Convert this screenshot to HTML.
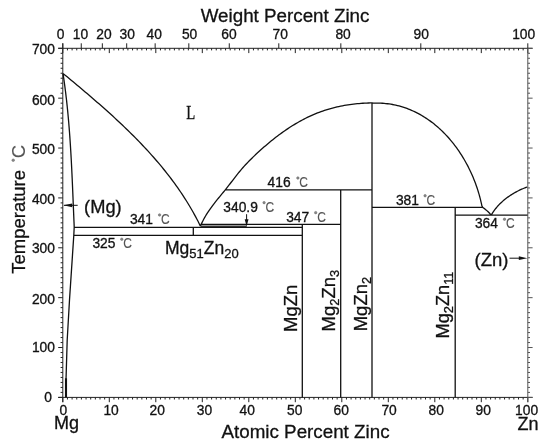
<!DOCTYPE html>
<html><head><meta charset="utf-8"><title>Mg-Zn phase diagram</title>
<style>
html,body{margin:0;padding:0;background:#fff;}
body{width:550px;height:446px;overflow:hidden;}
svg{display:block;will-change:transform;}
text{font-family:"Liberation Sans",sans-serif;fill:#111;stroke:#111;stroke-width:0.3px;}
.dgc{fill:#888;stroke:#666;stroke-width:0.5px;}
.cc{fill:#555;stroke:#555;stroke-width:0.1px;}
</style></head><body>
<svg width="550" height="446" viewBox="0 0 550 446">
<rect width="550" height="446" fill="#fff"/>
<path d="M58.2 48.3H532.6M58.2 397.4H532.6M62.8 43.3V402.2M58.2 397.4H62.8M60.6 392.41H62.8M60.6 387.43H62.8M60.6 382.44H62.8M60.6 377.45H62.8M60.6 372.46H62.8M60.6 367.48H62.8M60.6 362.49H62.8M60.6 357.5H62.8M60.6 352.52H62.8M58.2 347.53H62.8M60.6 342.54H62.8M60.6 337.55H62.8M60.6 332.57H62.8M60.6 327.58H62.8M60.6 322.59H62.8M60.6 317.61H62.8M60.6 312.62H62.8M60.6 307.63H62.8M60.6 302.65H62.8M58.2 297.66H62.8M60.6 292.67H62.8M60.6 287.68H62.8M60.6 282.7H62.8M60.6 277.71H62.8M60.6 272.72H62.8M60.6 267.74H62.8M60.6 262.75H62.8M60.6 257.76H62.8M60.6 252.77H62.8M58.2 247.79H62.8M60.6 242.8H62.8M60.6 237.81H62.8M60.6 232.83H62.8M60.6 227.84H62.8M60.6 222.85H62.8M60.6 217.86H62.8M60.6 212.88H62.8M60.6 207.89H62.8M60.6 202.9H62.8M58.2 197.92H62.8M60.6 192.93H62.8M60.6 187.94H62.8M60.6 182.95H62.8M60.6 177.97H62.8M60.6 172.98H62.8M60.6 167.99H62.8M60.6 163.01H62.8M60.6 158.02H62.8M60.6 153.03H62.8M58.2 148.04H62.8M60.6 143.06H62.8M60.6 138.07H62.8M60.6 133.08H62.8M60.6 128.1H62.8M60.6 123.11H62.8M60.6 118.12H62.8M60.6 113.14H62.8M60.6 108.15H62.8M60.6 103.16H62.8M58.2 98.17H62.8M60.6 93.19H62.8M60.6 88.2H62.8M60.6 83.21H62.8M60.6 78.23H62.8M60.6 73.24H62.8M60.6 68.25H62.8M60.6 63.26H62.8M60.6 58.28H62.8M60.6 53.29H62.8M58.2 48.3H62.8M62.8 397.4V402.2M67.45 397.4V399.5M72.1 397.4V399.5M76.75 397.4V399.5M81.4 397.4V399.5M86.05 397.4V399.5M90.7 397.4V399.5M95.35 397.4V399.5M100 397.4V399.5M104.65 397.4V399.5M109.3 397.4V402.2M113.95 397.4V399.5M118.6 397.4V399.5M123.25 397.4V399.5M127.9 397.4V399.5M132.55 397.4V399.5M137.2 397.4V399.5M141.85 397.4V399.5M146.5 397.4V399.5M151.15 397.4V399.5M155.8 397.4V402.2M160.45 397.4V399.5M165.1 397.4V399.5M169.75 397.4V399.5M174.4 397.4V399.5M179.05 397.4V399.5M183.7 397.4V399.5M188.35 397.4V399.5M193 397.4V399.5M197.65 397.4V399.5M202.3 397.4V402.2M206.95 397.4V399.5M211.6 397.4V399.5M216.25 397.4V399.5M220.9 397.4V399.5M225.55 397.4V399.5M230.2 397.4V399.5M234.85 397.4V399.5M239.5 397.4V399.5M244.15 397.4V399.5M248.8 397.4V402.2M253.45 397.4V399.5M258.1 397.4V399.5M262.75 397.4V399.5M267.4 397.4V399.5M272.05 397.4V399.5M276.7 397.4V399.5M281.35 397.4V399.5M286 397.4V399.5M290.65 397.4V399.5M295.3 397.4V402.2M299.95 397.4V399.5M304.6 397.4V399.5M309.25 397.4V399.5M313.9 397.4V399.5M318.55 397.4V399.5M323.2 397.4V399.5M327.85 397.4V399.5M332.5 397.4V399.5M337.15 397.4V399.5M341.8 397.4V402.2M346.45 397.4V399.5M351.1 397.4V399.5M355.75 397.4V399.5M360.4 397.4V399.5M365.05 397.4V399.5M369.7 397.4V399.5M374.35 397.4V399.5M379 397.4V399.5M383.65 397.4V399.5M388.3 397.4V402.2M392.95 397.4V399.5M397.6 397.4V399.5M402.25 397.4V399.5M406.9 397.4V399.5M411.55 397.4V399.5M416.2 397.4V399.5M420.85 397.4V399.5M425.5 397.4V399.5M430.15 397.4V399.5M434.8 397.4V402.2M439.45 397.4V399.5M444.1 397.4V399.5M448.75 397.4V399.5M453.4 397.4V399.5M458.05 397.4V399.5M462.7 397.4V399.5M467.35 397.4V399.5M472 397.4V399.5M476.65 397.4V399.5M481.3 397.4V402.2M485.95 397.4V399.5M490.6 397.4V399.5M495.25 397.4V399.5M499.9 397.4V399.5M504.55 397.4V399.5M509.2 397.4V399.5M513.85 397.4V399.5M518.5 397.4V399.5M523.15 397.4V399.5M527.8 397.4V402.2M62.8 48.3V53.1M67.45 48.3V50.4M72.1 48.3V50.4M76.75 48.3V50.4M81.4 48.3V50.4M86.05 48.3V50.4M90.7 48.3V50.4M95.35 48.3V50.4M100 48.3V50.4M104.65 48.3V50.4M109.3 48.3V53.1M113.95 48.3V50.4M118.6 48.3V50.4M123.25 48.3V50.4M127.9 48.3V50.4M132.55 48.3V50.4M137.2 48.3V50.4M141.85 48.3V50.4M146.5 48.3V50.4M151.15 48.3V50.4M155.8 48.3V53.1M160.45 48.3V50.4M165.1 48.3V50.4M169.75 48.3V50.4M174.4 48.3V50.4M179.05 48.3V50.4M183.7 48.3V50.4M188.35 48.3V50.4M193 48.3V50.4M197.65 48.3V50.4M202.3 48.3V53.1M206.95 48.3V50.4M211.6 48.3V50.4M216.25 48.3V50.4M220.9 48.3V50.4M225.55 48.3V50.4M230.2 48.3V50.4M234.85 48.3V50.4M239.5 48.3V50.4M244.15 48.3V50.4M248.8 48.3V53.1M253.45 48.3V50.4M258.1 48.3V50.4M262.75 48.3V50.4M267.4 48.3V50.4M272.05 48.3V50.4M276.7 48.3V50.4M281.35 48.3V50.4M286 48.3V50.4M290.65 48.3V50.4M295.3 48.3V53.1M299.95 48.3V50.4M304.6 48.3V50.4M309.25 48.3V50.4M313.9 48.3V50.4M318.55 48.3V50.4M323.2 48.3V50.4M327.85 48.3V50.4M332.5 48.3V50.4M337.15 48.3V50.4M341.8 48.3V53.1M346.45 48.3V50.4M351.1 48.3V50.4M355.75 48.3V50.4M360.4 48.3V50.4M365.05 48.3V50.4M369.7 48.3V50.4M374.35 48.3V50.4M379 48.3V50.4M383.65 48.3V50.4M388.3 48.3V53.1M392.95 48.3V50.4M397.6 48.3V50.4M402.25 48.3V50.4M406.9 48.3V50.4M411.55 48.3V50.4M416.2 48.3V50.4M420.85 48.3V50.4M425.5 48.3V50.4M430.15 48.3V50.4M434.8 48.3V53.1M439.45 48.3V50.4M444.1 48.3V50.4M448.75 48.3V50.4M453.4 48.3V50.4M458.05 48.3V50.4M462.7 48.3V50.4M467.35 48.3V50.4M472 48.3V50.4M476.65 48.3V50.4M481.3 48.3V53.1M485.95 48.3V50.4M490.6 48.3V50.4M495.25 48.3V50.4M499.9 48.3V50.4M504.55 48.3V50.4M509.2 48.3V50.4M513.85 48.3V50.4M518.5 48.3V50.4M523.15 48.3V50.4M527.8 48.3V53.1M62.8 43.3V48.3M81.25 43.3V48.3M102.34 43.3V48.3M126.7 43.3V48.3M155.15 43.3V48.3M188.82 43.3V48.3M229.27 43.3V48.3M278.79 43.3V48.3M340.83 43.3V48.3M420.8 43.3V48.3M527.8 43.3V48.3" stroke="#222" stroke-width="1" fill="none"/>
<path d="M527.8 48.3V402.2M527.8 397.4H532.6M527.8 392.41H530M527.8 387.43H530M527.8 382.44H530M527.8 377.45H530M527.8 372.46H530M527.8 367.48H530M527.8 362.49H530M527.8 357.5H530M527.8 352.52H530M527.8 347.53H532.6M527.8 342.54H530M527.8 337.55H530M527.8 332.57H530M527.8 327.58H530M527.8 322.59H530M527.8 317.61H530M527.8 312.62H530M527.8 307.63H530M527.8 302.65H530M527.8 297.66H532.6M527.8 292.67H530M527.8 287.68H530M527.8 282.7H530M527.8 277.71H530M527.8 272.72H530M527.8 267.74H530M527.8 262.75H530M527.8 257.76H530M527.8 252.77H530M527.8 247.79H532.6M527.8 242.8H530M527.8 237.81H530M527.8 232.83H530M527.8 227.84H530M527.8 222.85H530M527.8 217.86H530M527.8 212.88H530M527.8 207.89H530M527.8 202.9H530M527.8 197.92H532.6M527.8 192.93H530M527.8 187.94H530M527.8 182.95H530M527.8 177.97H530M527.8 172.98H530M527.8 167.99H530M527.8 163.01H530M527.8 158.02H530M527.8 153.03H530M527.8 148.04H532.6M527.8 143.06H530M527.8 138.07H530M527.8 133.08H530M527.8 128.1H530M527.8 123.11H530M527.8 118.12H530M527.8 113.14H530M527.8 108.15H530M527.8 103.16H530M527.8 98.17H532.6M527.8 93.19H530M527.8 88.2H530M527.8 83.21H530M527.8 78.23H530M527.8 73.24H530M527.8 68.25H530M527.8 63.26H530M527.8 58.28H530M527.8 53.29H530M527.8 48.3H532.6" stroke="#555" stroke-width="1" fill="none"/>
<rect x="200.6" y="224.35" width="46" height="2.6" fill="#999"/>
<path d="M63 73.6 L65.16 75.17 L67.16 76.83 L69.16 78.49 L71.16 80.15 L73.16 81.82 L75.16 83.49 L77.16 85.16 L79.16 86.84 L81.15 88.52 L83.15 90.21 L85.14 91.9 L87.14 93.59 L89.13 95.29 L91.12 96.99 L93.1 98.7 L95.08 100.42 L97.06 102.14 L99.04 103.86 L101.01 105.59 L102.98 107.33 L104.94 109.07 L106.9 110.82 L108.85 112.57 L110.8 114.34 L112.74 116.1 L114.67 117.88 L116.6 119.66 L118.52 121.45 L120.44 123.24 L122.34 125.05 L124.24 126.86 L126.14 128.68 L128.02 130.51 L129.89 132.34 L131.76 134.18 L133.62 136.04 L135.46 137.9 L137.3 139.77 L139.13 141.64 L140.94 143.53 L142.75 145.43 L144.54 147.33 L146.33 149.25 L148.1 151.18 L149.86 153.11 L151.61 155.06 L153.34 157.01 L155.06 158.98 L156.77 160.96 L158.47 162.94 L160.15 164.94 L161.82 166.95 L163.47 168.97 L165.11 171.01 L166.73 173.05 L168.34 175.11 L169.93 177.18 L171.51 179.26 L173.07 181.35 L174.61 183.45 L176.14 185.57 L177.65 187.7 L179.14 189.85 L180.62 192 L182.07 194.17 L183.51 196.36 L184.93 198.55 L186.33 200.76 L187.71 202.99 L189.07 205.23 L190.41 207.48 L191.73 209.75 L193.03 212.03 L194.31 214.33 L195.57 216.64 L196.81 218.97 L198.03 221.31 L199.22 223.67 L200.3 226M63 73.6 L63.3 75.53 L63.59 77.46 L63.87 79.39 L64.15 81.33 L64.42 83.26 L64.68 85.2 L64.94 87.13 L65.19 89.07 L65.44 91 L65.68 92.94 L65.91 94.88 L66.14 96.82 L66.37 98.76 L66.59 100.69 L66.8 102.63 L67.01 104.57 L67.21 106.51 L67.41 108.46 L67.61 110.4 L67.8 112.34 L67.98 114.28 L68.16 116.22 L68.34 118.17 L68.51 120.11 L68.68 122.05 L68.84 124 L69 125.94 L69.16 127.89 L69.31 129.83 L69.46 131.78 L69.61 133.73 L69.75 135.67 L69.89 137.62 L70.02 139.57 L70.15 141.51 L70.28 143.46 L70.41 145.41 L70.53 147.36 L70.65 149.3 L70.77 151.25 L70.88 153.2 L71 155.15 L71.1 157.1 L71.21 159.05 L71.32 161 L71.42 162.95 L71.52 164.9 L71.62 166.85 L71.72 168.8 L71.81 170.75 L71.9 172.7 L72 174.65 L72.09 176.6 L72.18 178.55 L72.26 180.5 L72.35 182.45 L72.44 184.4 L72.52 186.35 L72.6 188.3 L72.69 190.25 L72.77 192.2 L72.85 194.15 L72.93 196.1 L73.01 198.05 L73.09 200 L73.17 201.95 L73.25 203.9 L73.33 205.85 L73.41 207.8 L73.49 209.75 L73.57 211.7 L73.65 213.65 L73.73 215.6 L73.81 217.55 L73.89 219.5 L73.98 221.45 L74.06 223.4 L74.14 225.35 L74.2 227.3M74.2 227.3 L73.8 235.3 L69.5 300 L67.2 340 L66 380M200.3 226 L201.19 224.35 L201.99 222.64 L202.83 220.95 L203.7 219.29 L204.61 217.66 L205.54 216.04 L206.5 214.45 L207.49 212.88 L208.5 211.33 L209.54 209.79 L210.61 208.27 L211.69 206.77 L212.8 205.28 L213.93 203.81 L215.07 202.35 L216.23 200.9 L217.4 199.45 L218.58 198.01 L219.76 196.58 L220.95 195.14 L222.13 193.71 L223.32 192.27 L224.5 190.82 L225.67 189.37 L226.83 187.91 L227.98 186.44 L229.13 184.97 L230.27 183.49 L231.4 182.01 L232.54 180.52 L233.67 179.05 L234.81 177.57 L235.96 176.1 L237.11 174.64 L238.27 173.19 L239.44 171.75 L240.62 170.32 L241.82 168.91 L243.03 167.52 L244.26 166.14 L245.5 164.78 L246.76 163.44 L248.04 162.1 L249.32 160.78 L250.62 159.47 L251.93 158.17 L253.26 156.89 L254.59 155.61 L255.94 154.34 L257.29 153.07 L258.66 151.82 L260.03 150.57 L261.41 149.32 L262.81 148.09 L264.21 146.86 L265.62 145.64 L267.05 144.43 L268.48 143.22 L269.92 142.03 L271.37 140.84 L272.83 139.67 L274.3 138.51 L275.77 137.36 L277.26 136.22 L278.76 135.09 L280.26 133.97 L281.78 132.87 L283.31 131.78 L284.84 130.71 L286.38 129.65 L287.94 128.61 L289.5 127.58 L291.07 126.57 L292.65 125.57 L294.24 124.59 L295.84 123.63 L297.45 122.69 L299.07 121.77 L300.7 120.86 L302.34 119.97 L303.99 119.11 L305.64 118.26 L307.31 117.43 L308.98 116.63 L310.67 115.85 L312.36 115.09 L314.06 114.35 L315.78 113.64 L317.5 112.95 L319.23 112.28 L320.97 111.64 L322.72 111.02 L324.48 110.43 L326.25 109.86 L328.02 109.32 L329.81 108.8 L331.6 108.3 L333.4 107.83 L335.2 107.38 L337.02 106.96 L338.83 106.55 L340.66 106.17 L342.49 105.81 L344.32 105.48 L346.16 105.16 L348.01 104.87 L349.85 104.6 L351.71 104.35 L353.56 104.12 L355.42 103.91 L357.28 103.72 L359.14 103.55 L361.01 103.4 L362.87 103.27 L364.74 103.16 L366.61 103.06 L368.48 102.99 L370.35 102.93 L372.2 102.9M372.2 102.9 L373.58 103.07 L375.36 103.04 L377.13 103.03 L378.89 103.07 L380.63 103.13 L382.37 103.23 L384.09 103.36 L385.8 103.53 L387.5 103.73 L389.19 103.96 L390.86 104.22 L392.53 104.51 L394.18 104.83 L395.82 105.19 L397.45 105.57 L399.06 105.98 L400.66 106.42 L402.25 106.9 L403.83 107.4 L405.4 107.93 L406.95 108.48 L408.49 109.07 L410.01 109.68 L411.53 110.31 L413.03 110.98 L414.52 111.67 L415.99 112.39 L417.45 113.13 L418.9 113.89 L420.33 114.68 L421.75 115.5 L423.16 116.34 L424.55 117.2 L425.93 118.09 L427.3 118.99 L428.65 119.92 L429.98 120.88 L431.31 121.85 L432.62 122.85 L433.91 123.86 L435.19 124.9 L436.46 125.95 L437.71 127.03 L438.95 128.13 L440.17 129.24 L441.38 130.37 L442.57 131.53 L443.75 132.7 L444.91 133.88 L446.06 135.09 L447.19 136.31 L448.31 137.55 L449.41 138.8 L450.5 140.07 L451.57 141.35 L452.62 142.65 L453.66 143.97 L454.69 145.29 L455.7 146.64 L456.69 147.99 L457.67 149.36 L458.63 150.74 L459.57 152.14 L460.5 153.54 L461.41 154.96 L462.31 156.39 L463.19 157.83 L464.05 159.28 L464.9 160.74 L465.73 162.21 L466.54 163.69 L467.34 165.17 L468.12 166.67 L468.88 168.18 L469.62 169.69 L470.35 171.21 L471.06 172.74 L471.76 174.27 L472.43 175.81 L473.09 177.36 L473.73 178.91 L474.35 180.47 L474.96 182.03 L475.55 183.6 L476.12 185.17 L476.67 186.75 L477.2 188.33 L477.72 189.91 L478.22 191.49 L478.7 193.08 L479.16 194.67 L479.6 196.26 L480.03 197.85 L480.43 199.44 L480.82 201.04 L481.19 202.63 L481.54 204.22 L481.87 205.82 L482.7 207.4M482.7 207.4 L483.56 208.01 L484.4 208.63 L485.22 209.27 L486.03 209.93 L486.82 210.62 L487.59 211.32 L488.35 212.03 L489.09 212.77 L489.81 213.53 L490.51 214.31 L491.2 215.1M491.2 215.1 L491.79 214.05 L492.42 213.04 L493.08 212.05 L493.77 211.07 L494.47 210.11 L495.19 209.16 L495.94 208.23 L496.7 207.32 L497.48 206.42 L498.28 205.53 L499.1 204.67 L499.94 203.82 L500.79 202.98 L501.66 202.16 L502.55 201.36 L503.45 200.57 L504.36 199.8 L505.29 199.05 L506.24 198.31 L507.2 197.59 L508.17 196.88 L509.15 196.19 L510.14 195.52 L511.15 194.86 L512.16 194.22 L513.19 193.6 L514.22 192.99 L515.27 192.4 L516.32 191.82 L517.38 191.26 L518.45 190.72 L519.52 190.2 L520.6 189.69 L521.69 189.2 L522.78 188.72 L523.88 188.26 L524.98 187.82 L526.08 187.4 L527.2 187M74.2 227.34H302.3M74.2 235.32H302.3M200.4 224.35H340.7M225.7 189.94H372M372 207.39H482.8M455.2 215.1H527.6M193.3 227.34V235.32M302.3 224.35V397.4M340.7 189.94V397.4M372 102.9V397.4M455.2 207.39V397.4" stroke="#111" stroke-width="1.3" fill="none" stroke-linejoin="round"/>
<path d="M200.6 226.7H246.6" stroke="#222" stroke-width="1" fill="none"/>
<path d="M66 378.3V397.4" stroke="#111" stroke-width="2.1"/>
<path d="M64 205.3H77.7" stroke="#111" stroke-width="1"/><path d="M63.4 205.3L72.2 203.4L72.2 207.2Z" fill="#111"/>
<path d="M246.6 214.2V221" stroke="#111" stroke-width="1"/><path d="M246.6 226.4L244.7 219.2L248.5 219.2Z" fill="#111"/>
<path d="M509.5 258.2H521" stroke="#111" stroke-width="1"/><path d="M527.4 258.2L518.8 256.3L518.8 260.1Z" fill="#111"/>
<text x="200.7" y="22.4" font-size="18.8" >Weight Percent Zinc</text>
<text x="221.5" y="438.2" font-size="18.8" >Atomic Percent Zinc</text>
<text x="56.85" y="38.7" font-size="13.8">0</text>
<text x="72.73" y="38.7" font-size="13.8">10</text>
<text x="96.23" y="38.7" font-size="13.8">20</text>
<text x="119.53" y="38.7" font-size="13.8">30</text>
<text x="146.52" y="38.7" font-size="13.8">40</text>
<text x="181.92" y="38.7" font-size="13.8">50</text>
<text x="221.22" y="38.7" font-size="13.8">60</text>
<text x="272.52" y="38.7" font-size="13.8">70</text>
<text x="335.43" y="38.7" font-size="13.8">80</text>
<text x="413.62" y="38.7" font-size="13.8">90</text>
<text x="512.18" y="38.7" font-size="13.8">100</text>
<text x="59.5" y="414.7" font-size="13.8">0</text>
<text x="103.42" y="414.7" font-size="13.8">10</text>
<text x="149.62" y="414.7" font-size="13.8">20</text>
<text x="196.82" y="414.7" font-size="13.8">30</text>
<text x="239.62" y="414.7" font-size="13.8">40</text>
<text x="287.12" y="414.7" font-size="13.8">50</text>
<text x="333.62" y="414.7" font-size="13.8">60</text>
<text x="381.43" y="414.7" font-size="13.8">70</text>
<text x="428.52" y="414.7" font-size="13.8">80</text>
<text x="475.62" y="414.7" font-size="13.8">90</text>
<text x="515.08" y="414.7" font-size="13.8">100</text>
<text x="44.3" y="401.85" font-size="13.8">0</text>
<text x="31.95" y="351.88" font-size="13.8">100</text>
<text x="31.95" y="303.81" font-size="13.8">200</text>
<text x="31.95" y="252.94" font-size="13.8">300</text>
<text x="31.95" y="203.52" font-size="13.8">400</text>
<text x="31.95" y="153.64" font-size="13.8">500</text>
<text x="31.95" y="105.12" font-size="13.8">600</text>
<text x="31.95" y="54.1" font-size="13.8">700</text>
<text x="54.1" y="429.1" font-size="18" >Mg</text>
<text x="517.5" y="430.4" font-size="18" >Zn</text>
<text x="84.1" y="213" font-size="18.3" >(Mg)</text>
<text x="474.5" y="266.4" font-size="18.5" >(Zn)</text>
<text x="0" y="0" font-size="19" font-family="Liberation Serif" transform="translate(186.3 118.6) scale(0.78 1) translate(-0 0)" style="font-family:'Liberation Serif',serif">L</text>
<text x="129.9" y="223.8" font-size="13.8" >341</text>
<text x="0" y="0" font-size="13.8" class="cc" transform="translate(161.04 223.8) scale(0.87 1.08) translate(-0 0)">C</text>
<circle cx="159.59" cy="214.93" r="1.25" class="dgc"/>
<text x="92.4" y="248.1" font-size="13.8" >325</text>
<text x="0" y="0" font-size="13.8" class="cc" transform="translate(123.24 248.1) scale(0.87 1.08) translate(-0 0)">C</text>
<circle cx="121.79" cy="239.23" r="1.25" class="dgc"/>
<text x="223.3" y="211.5" font-size="13.8" >340.9</text>
<text x="0" y="0" font-size="13.8" class="cc" transform="translate(265.54 211.5) scale(0.87 1.08) translate(-0 0)">C</text>
<circle cx="264.09" cy="202.63" r="1.25" class="dgc"/>
<text x="286.2" y="221.5" font-size="13.8" >347</text>
<text x="0" y="0" font-size="13.8" class="cc" transform="translate(317.14 221.5) scale(0.87 1.08) translate(-0 0)">C</text>
<circle cx="315.69" cy="212.63" r="1.25" class="dgc"/>
<text x="267.6" y="186.9" font-size="13.8" >416</text>
<text x="0" y="0" font-size="13.8" class="cc" transform="translate(299.34 186.9) scale(0.87 1.08) translate(-0 0)">C</text>
<circle cx="297.89" cy="178.03" r="1.25" class="dgc"/>
<text x="395.9" y="204.6" font-size="13.8" >381</text>
<text x="0" y="0" font-size="13.8" class="cc" transform="translate(426.54 204.6) scale(0.87 1.08) translate(-0 0)">C</text>
<circle cx="425.09" cy="195.73" r="1.25" class="dgc"/>
<text x="474.9" y="228.1" font-size="13.8" >364</text>
<text x="0" y="0" font-size="13.8" class="cc" transform="translate(505.94 228.1) scale(0.87 1.08) translate(-0 0)">C</text>
<circle cx="504.49" cy="219.23" r="1.25" class="dgc"/>
<text x="165" y="253.6" font-size="17.5">Mg<tspan font-size="13" dy="4.6">51</tspan><tspan dy="-4.6">Zn</tspan><tspan font-size="13" dy="4.6">20</tspan></text>
<text transform="translate(297.4 331.9) rotate(-90)" font-size="18.5">MgZn</text>
<text transform="translate(335.2 331.4) rotate(-90)" font-size="18.5">Mg<tspan font-size="12.8" dy="4.2">2</tspan><tspan dy="-4.2">Zn</tspan><tspan font-size="12.8" dy="4.2">3</tspan></text>
<text transform="translate(366.8 331.3) rotate(-90)" font-size="18.5">MgZn<tspan font-size="12.8" dy="4.2">2</tspan></text>
<text transform="translate(448.5 338.5) rotate(-90)" font-size="18.2">Mg<tspan font-size="13" dy="4.2">2</tspan><tspan dy="-4.2">Zn</tspan><tspan font-size="12.5" dy="4.2">11</tspan></text>
<text transform="translate(25.2 273.8) rotate(-90)" font-size="18.5">Temperature</text>
<text transform="translate(25.2 158.2) rotate(-90)" font-size="18.5" class="cc">C</text>
<circle cx="13.2" cy="160.2" r="1.3" class="dgc"/>
</svg>
</body></html>
